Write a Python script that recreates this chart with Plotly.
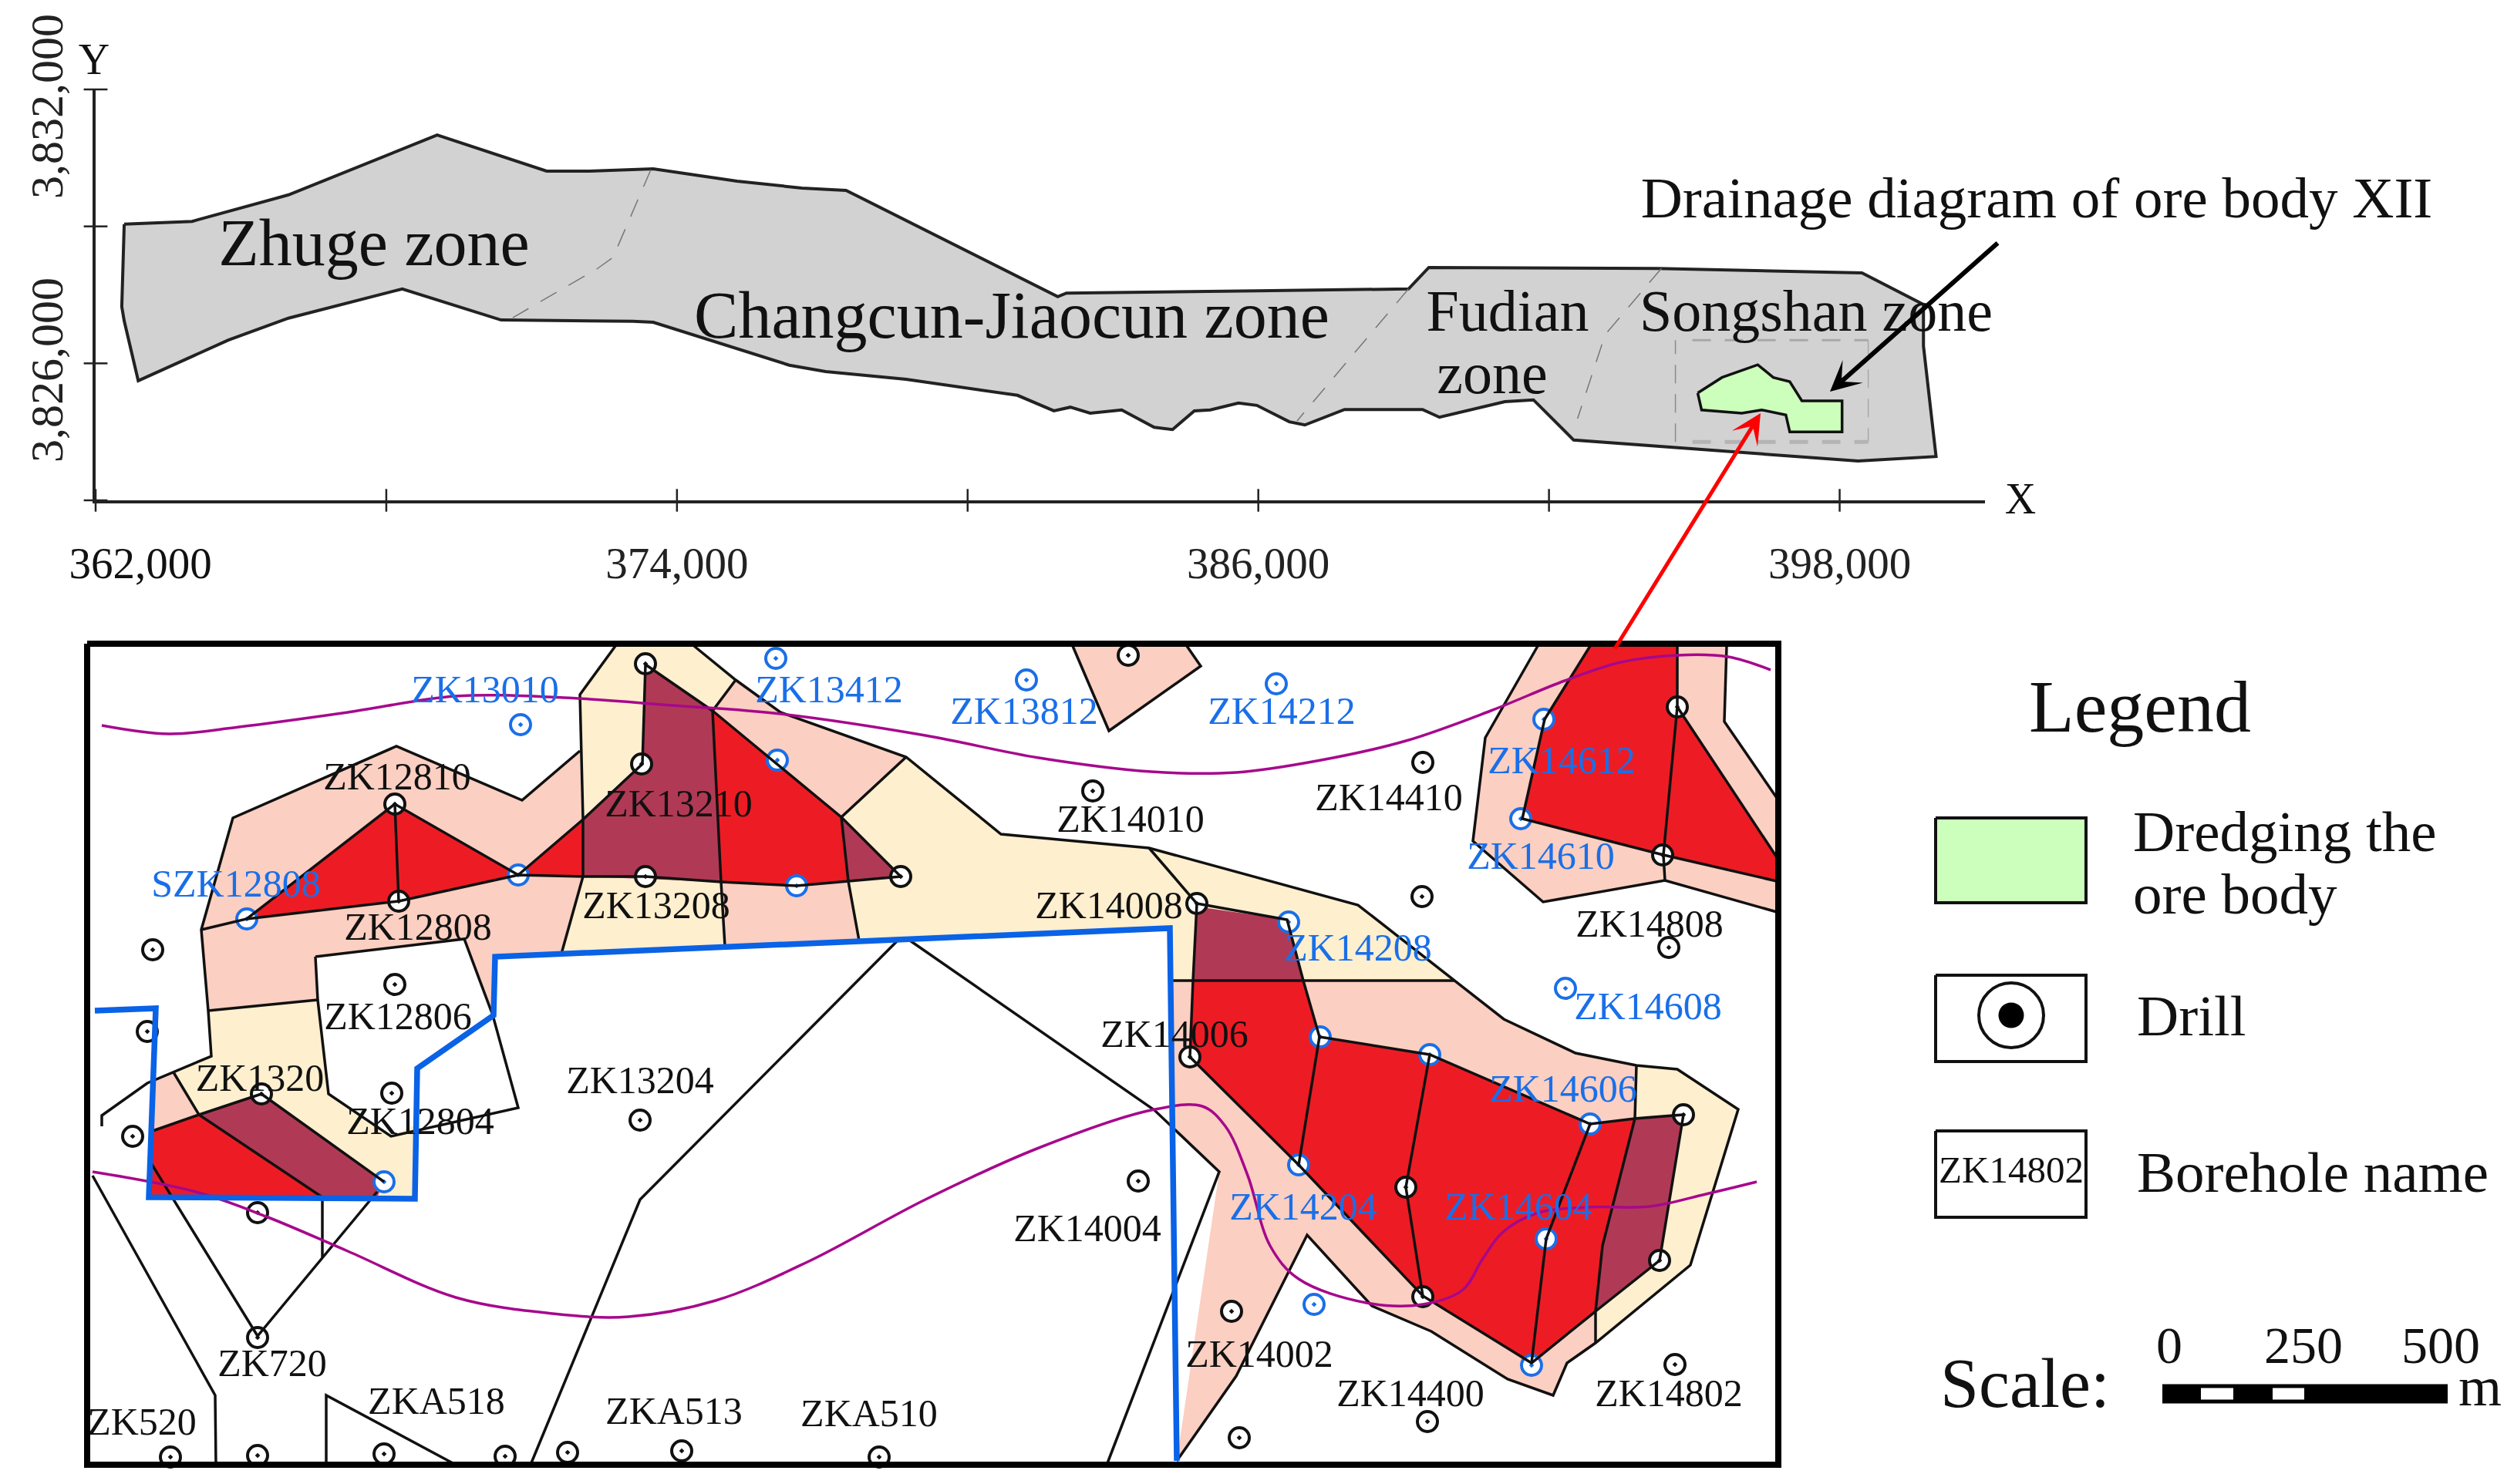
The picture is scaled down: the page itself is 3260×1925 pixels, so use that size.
import plotly.graph_objects as go

W, H = 3260, 1925
TEXT_DY = 4  # serif text sits a little high when middle-anchored

# top map, real coordinates
zone_outline = [
    (362590, 3829050), (363990, 3829110), (365980, 3829690), (369050, 3831000), (371310, 3830210),
    (372190, 3830210), (373510, 3830260), (375240, 3829990), (376580, 3829840), (377490, 3829790),
    (381860, 3827460), (382040, 3827540), (385970, 3827590), (389100, 3827630), (389520, 3828100),
    (394240, 3828080), (398460, 3827980), (399730, 3827290), (399730, 3826380), (399990, 3823960),
    (398380, 3823860), (392510, 3824320), (391680, 3825200), (391090, 3825160), (389740, 3824820),
    (389390, 3824990), (387780, 3824990), (386960, 3824650), (386640, 3824720), (385970, 3825080),
    (385590, 3825130), (385010, 3824980), (384680, 3824960), (384230, 3824550), (383850, 3824600),
    (383180, 3824980), (382530, 3824910), (382120, 3825040), (381780, 3824960), (381030, 3825300),
    (378730, 3825650), (377070, 3825820), (376320, 3825960), (374920, 3826430), (373510, 3826900),
    (373090, 3826920), (370370, 3826950), (368330, 3827630), (365980, 3826990), (364740, 3826510),
    (362880, 3825620), (362590, 3826930), (362540, 3827240), (362590, 3829050),
]
zone_split_1 = [(373460, 3830240), (372680, 3828320), (372350, 3828070), (370610, 3827000)]
zone_split_2 = [(389100, 3827630), (386800, 3824740)]
zone_split_3 = [(394320, 3828080), (393580, 3827150), (393160, 3826630), (392590, 3824790)]
detail_left = [(394610, 3824280), (394610, 3826510)]
detail_right = [(398590, 3826510), (398590, 3824280)]
detail_top = [(394960, 3826510), (398590, 3826510)]
detail_bottom = [(394960, 3824280), (398590, 3824280)]
ore_body = [
    (395070, 3825350), (395570, 3825690), (396310, 3825970), (396630, 3825690), (396970, 3825600),
    (397220, 3825180), (398050, 3825180), (398050, 3824500), (396970, 3824500), (396890, 3824870),
    (396390, 3824980), (395980, 3824910), (395150, 3824980), (395070, 3825350),
]
x_ticks = [362000, 368000, 374000, 380000, 386000, 392000, 398000]
x_tick_text = ['', '', '374,000', '', '386,000', '', '398,000']
y_ticks = [3823000, 3826000, 3829000, 3832000]

# lower map, sheet units
peach_areas = [
    [(261, 1206), (302, 1061), (514, 968), (677, 1038), (752, 974), (756, 1137), (728, 1237), (642, 1241),
     (639, 1317), (602, 1218), (409, 1241), (412, 1297), (270, 1311)],
    [(954, 882), (1012, 924), (1175, 982), (1091, 1060), (924, 922)],
    [(935, 1144), (940, 1227), (1114, 1220), (1100, 1143)],
    [(1690, 1272), (1886, 1272), (1950, 1322), (2043, 1366), (2122, 1382), (2122, 1451), (2062, 1458),
     (1854, 1368), (1711, 1345)],
    [(1517, 1272), (1547, 1272), (1543, 1371), (1684, 1511), (1845, 1681), (1986, 1768), (2069, 1701),
     (2069, 1742), (2032, 1768), (2014, 1810), (1955, 1789), (1856, 1727), (1779, 1694), (1695, 1602),
     (1603, 1785), (1526, 1895), (1581, 1520), (1519, 1458)],
    [(1391, 838), (1539, 838), (1557, 864), (1438, 948)],
    [(1994, 838), (1926, 957), (1910, 1091), (2001, 1170), (2159, 1142), (2304, 1183), (2304, 1143),
     (2157, 1109), (1974, 1062), (2003, 933), (2062, 838)],
    [(2175, 838), (2239, 838), (2236, 936), (2304, 1035), (2304, 1112), (2175, 917)],
    [(195, 1401), (225, 1391), (258, 1446), (195, 1468)],
]
cream_areas = [
    [(752, 901), (798, 838), (900, 838), (954, 882), (924, 922), (837, 862), (833, 991), (756, 1063)],
    [(756, 1137), (728, 1237), (940, 1227), (935, 1144)],
    [(1091, 1060), (1175, 982), (1298, 1082), (1490, 1100), (1761, 1174), (1886, 1272), (1517, 1272),
     (1517, 1204), (1114, 1220), (1100, 1143), (1168, 1137)],
    [(2122, 1382), (2175, 1387), (2254, 1439), (2192, 1641), (2069, 1742), (2069, 1701), (2152, 1635),
     (2183, 1446), (2120, 1451)],
    [(270, 1311), (412, 1297), (426, 1419), (507, 1474), (541, 1458), (538, 1555), (489, 1553), (498, 1533),
     (339, 1419), (258, 1446), (225, 1391), (274, 1370)],
]
red_areas = [
    [(320, 1192), (512, 1043), (672, 1135), (517, 1169)],
    [(672, 1135), (756, 1063), (756, 1137)],
    [(924, 922), (1091, 1060), (1100, 1143), (1033, 1149), (935, 1144)],
    [(1547, 1272), (1690, 1272), (1711, 1345), (1854, 1368), (2062, 1458), (2120, 1451), (2078, 1616),
     (2069, 1701), (1986, 1768), (1845, 1681), (1684, 1511), (1543, 1371)],
    [(2062, 838), (2175, 838), (2175, 917), (2304, 1112), (2304, 1143), (2157, 1109), (1974, 1062), (2003, 933)],
    [(195, 1468), (258, 1446), (418, 1553), (193, 1553)],
]
maroon_areas = [
    [(837, 862), (924, 922), (935, 1144), (756, 1137), (756, 1063), (833, 991)],
    [(1091, 1060), (1168, 1137), (1100, 1143)],
    [(1552, 1176), (1669, 1193), (1690, 1272), (1547, 1272)],
    [(2120, 1451), (2183, 1446), (2152, 1635), (2069, 1701), (2078, 1616)],
    [(258, 1446), (339, 1419), (498, 1533), (489, 1553), (418, 1553)],
]
black_lines = [
    [(132, 1461), (132, 1447), (191, 1405), (225, 1391), (274, 1370), (270, 1311), (261, 1206), (302, 1061),
     (514, 968), (677, 1038), (752, 974)],
    [(728, 1237), (756, 1137), (756, 1063), (752, 901), (798, 838)],
    [(900, 838), (954, 882), (1012, 924), (1175, 982), (1298, 1082), (1490, 1100), (1761, 1174), (1886, 1272),
     (1950, 1322), (2043, 1366), (2122, 1382), (2175, 1387), (2254, 1439), (2192, 1641), (2069, 1742),
     (2032, 1768), (2014, 1810), (1955, 1789), (1856, 1727), (1779, 1694), (1695, 1602), (1603, 1785), (1526, 1895)],
    [(954, 882), (924, 922), (837, 862), (833, 991), (756, 1063), (672, 1135)],
    [(261, 1206), (320, 1192), (512, 1043), (672, 1135)],
    [(512, 1043), (517, 1169)],
    [(320, 1192), (517, 1169), (672, 1135), (756, 1137), (837, 1137), (935, 1144), (1033, 1149), (1100, 1143),
     (1168, 1137), (1091, 1060), (924, 922)],
    [(924, 922), (935, 1144), (940, 1227)],
    [(1175, 982), (1091, 1060), (1100, 1143), (1114, 1220)],
    [(409, 1241), (602, 1218), (639, 1317), (672, 1437), (507, 1474), (426, 1419), (412, 1297), (409, 1241)],
    [(270, 1311), (412, 1297)],
    [(225, 1391), (258, 1446), (418, 1553), (418, 1632)],
    [(195, 1468), (258, 1446), (339, 1419), (498, 1533)],
    [(193, 1504), (334, 1733), (489, 1546)],
    [(120, 1525), (279, 1810), (280, 1900)],
    [(423, 1900), (423, 1810), (591, 1900)],
    [(688, 1900), (830, 1556), (1166, 1218)],
    [(1177, 1218), (1497, 1440), (1581, 1520), (1436, 1898)],
    [(1515, 1272), (1886, 1272)],
    [(1490, 1100), (1552, 1172), (1547, 1272), (1543, 1371), (1684, 1511), (1845, 1681), (1986, 1768), (2069, 1701),
     (2078, 1616), (2120, 1451), (2183, 1446), (2152, 1635), (2069, 1701), (2069, 1742)],
    [(1552, 1172), (1669, 1193), (1690, 1272), (1711, 1345), (1854, 1368), (2062, 1458), (2120, 1451)],
    [(2122, 1382), (2120, 1451)],
    [(1711, 1345), (1684, 1511)],
    [(1854, 1368), (1823, 1540), (1845, 1681)],
    [(2062, 1458), (2005, 1607), (1986, 1768)],
    [(1391, 838), (1438, 948), (1557, 864), (1539, 838)],
    [(1994, 838), (1926, 957), (1910, 1091), (2001, 1170), (2159, 1142), (2304, 1183)],
    [(2062, 838), (2003, 933), (1974, 1062), (2157, 1109), (2304, 1143)],
    [(2175, 838), (2175, 917), (2157, 1109), (2159, 1142)],
    [(2175, 917), (2304, 1112)],
    [(2239, 838), (2236, 936), (2304, 1035)],
]
blue_boundary = [
    (123, 1311), (202, 1308), (193, 1553), (538, 1555), (541, 1386), (640, 1317), (642, 1241), (1200, 1218),
    (1517, 1204), (1526, 1895),
]
curve_upper = [
    (132, 941), (219, 952), (310, 943), (451, 924), (591, 903), (731, 905), (872, 915), (1012, 926), (1200, 954),
    (1347, 983), (1493, 1001), (1603, 1002), (1713, 986), (1823, 961), (1933, 922), (2029, 883), (2102, 859),
    (2175, 850), (2241, 852), (2296, 869),
]
curve_lower = [
    (120, 1520), (254, 1546), (345, 1578), (451, 1623), (591, 1683), (717, 1704), (815, 1708), (928, 1687),
    (1047, 1637), (1200, 1556), (1347, 1489), (1493, 1440), (1559, 1435), (1589, 1461), (1618, 1525), (1647, 1616),
    (1684, 1659), (1772, 1690), (1845, 1692), (1897, 1673), (1922, 1634), (1948, 1599), (1992, 1574), (2058, 1566),
    (2139, 1565), (2212, 1549), (2278, 1533),
]
drills_black = [
    (198, 1232), (191, 1338), (172, 1474), (334, 1573), (334, 1735), (512, 1277), (508, 1418), (830, 1453),
    (221, 1890), (334, 1888), (498, 1886), (655, 1889), (736, 1884), (884, 1882), (1140, 1890), (512, 1043),
    (517, 1169), (837, 1137), (832, 991), (837, 861), (1168, 1137), (339, 1419), (1463, 850), (1417, 1026),
    (1845, 989), (1844, 1163), (2164, 1229), (1552, 1172), (1543, 1371), (2175, 917), (2156, 1109), (2183, 1446),
    (2152, 1635), (1823, 1540), (1845, 1682), (1476, 1532), (1597, 1701), (1607, 1865), (1851, 1844), (2172, 1770),
]
drills_blue = [
    (675, 940), (1006, 854), (1008, 986), (672, 1135), (320, 1192), (1033, 1149), (498, 1533), (1331, 882),
    (1655, 887), (2002, 933), (1972, 1062), (1671, 1196), (2030, 1282), (1712, 1345), (1854, 1368), (2062, 1458),
    (1684, 1511), (2005, 1607), (1704, 1692), (1986, 1771),
]
names_black = [
    ('ZK12810', 515, 1007), ('ZK13210', 880, 1042), ('ZK12808', 542, 1202), ('ZK13208', 851, 1174),
    ('ZK12806', 516, 1318), ('ZK1320', 337, 1398), ('ZK12804', 545, 1454), ('ZK13204', 830, 1401),
    ('ZK720', 353, 1768), ('ZKA518', 566, 1817), ('ZK520', 184, 1844), ('ZKA513', 874, 1830),
    ('ZKA510', 1127, 1833), ('ZK14410', 1801, 1034), ('ZK14010', 1466, 1062), ('ZK14008', 1438, 1174),
    ('ZK14808', 2139, 1198), ('ZK14006', 1523, 1341), ('ZK14004', 1410, 1593), ('ZK14002', 1633, 1756),
    ('ZK14400', 1829, 1807), ('ZK14802', 2164, 1807),
]
names_blue = [
    ('ZK13010', 629, 894), ('ZK13412', 1075, 894), ('SZK12808', 306, 1146), ('ZK13812', 1328, 922),
    ('ZK14212', 1662, 922), ('ZK14612', 2025, 986), ('ZK14610', 1998, 1110), ('ZK14208', 1761, 1229),
    ('ZK14608', 2137, 1305), ('ZK14606', 2027, 1412), ('ZK14204', 1690, 1565), ('ZK14604', 1969, 1565),
]

BLACK = '#111111'
SERIF = 'Liberation Serif'

fig = go.Figure()


def xs(points):
    return [p[0] for p in points]


def ys(points):
    return [p[1] for p in points]


def sheet_poly(points, fill=None, line=None, width=3.5, dash=None, shape='linear'):
    # everything below the top map sits on the full-sheet axes x2/y2
    fig.add_trace(go.Scatter(
        x=xs(points), y=ys(points), xaxis='x2', yaxis='y2', mode='lines',
        fill='toself' if fill else None, fillcolor=fill,
        line=dict(color=line if line else 'rgba(0,0,0,0)', width=width if line else 0, dash=dash, shape=shape),
    ))


def top_poly(points, fill=None, line='#222222', width=3.5, dash=None):
    fig.add_trace(go.Scatter(
        x=xs(points), y=ys(points), mode='lines',
        fill='toself' if fill else None, fillcolor=fill,
        line=dict(color=line, width=width, dash=dash),
    ))


def sheet_text(labels, size, color=BLACK, pos='middle center'):
    fig.add_trace(go.Scatter(
        x=[p[1] for p in labels], y=[p[2] + TEXT_DY for p in labels], text=[p[0] for p in labels],
        xaxis='x2', yaxis='y2', mode='text', textposition=pos,
        textfont=dict(family=SERIF, size=size, color=color),
    ))


# top map
top_poly(zone_outline, fill='#D2D2D2', width=4)
for split in [zone_split_1, zone_split_2, zone_split_3]:
    top_poly(split, line='#777777', width=1.5, dash='24px,18px')
top_poly(detail_left, line='#8A8A8A', width=1.5, dash='24px,14px')
top_poly(detail_right, line='#A8A8A8', width=1.5, dash='24px,14px')
top_poly(detail_top, line='#A8A8A8', width=3, dash='24px,18px')
top_poly(detail_bottom, line='#B4B4B4', width=5, dash='24px,18px')
top_poly(ore_body, fill='#CCFFBB', line='#111111', width=3.5)
fig.add_trace(go.Scatter(
    x=x_ticks, y=[y_ticks[0]] * len(x_ticks), mode='markers', cliponaxis=False,
    marker=dict(symbol='line-ns', size=21, line=dict(color='#222222', width=2.5)),
))
fig.add_trace(go.Scatter(
    x=[x_ticks[0]] * len(y_ticks), y=y_ticks, mode='markers', cliponaxis=False,
    marker=dict(symbol='line-ew', size=22, line=dict(color='#222222', width=2.5)),
))

# lower map
for area in peach_areas:
    sheet_poly(area, fill='#FBCFC1')
for area in cream_areas:
    sheet_poly(area, fill='#FEEFCF')
for area in red_areas:
    sheet_poly(area, fill='#ED1C24')
for area in maroon_areas:
    sheet_poly(area, fill='#B03A55')

for pts, col in [(drills_black, '#111111'), (drills_blue, '#1A6FE8')]:
    fig.add_trace(go.Scatter(
        x=xs(pts), y=ys(pts), xaxis='x2', yaxis='y2', mode='markers',
        marker=dict(symbol='circle-dot', size=26, color='white', line=dict(color=col, width=4)),
    ))
for seg in black_lines:
    sheet_poly(seg, line='#111111', width=3.5)
sheet_poly(curve_upper, line='#A6088C', width=3.5, shape='spline')
sheet_poly(curve_lower, line='#A6088C', width=3.5, shape='spline')
sheet_poly(blue_boundary, line='#0A62E6', width=7.5)
sheet_text(names_black, 50)
sheet_text(names_blue, 50, color='#1A6FE8')

map_frame = [(113, 835), (2306, 835), (2306, 1900), (113, 1900), (113, 835)]
sheet_poly(map_frame, line='#000000', width=8)

# legend boxes
legend_box_1 = [(2510, 1061), (2705, 1061), (2705, 1171), (2510, 1171), (2510, 1061)]
legend_box_2 = [(2510, 1265), (2705, 1265), (2705, 1377), (2510, 1377), (2510, 1265)]
legend_box_3 = [(2510, 1467), (2705, 1467), (2705, 1579), (2510, 1579), (2510, 1467)]
sheet_poly(legend_box_1, fill='#CCFFBB', line='#111111', width=4)
sheet_poly(legend_box_2, line='#111111', width=4)
sheet_poly(legend_box_3, line='#111111', width=4)
fig.add_trace(go.Scatter(
    x=[2608], y=[1317], xaxis='x2', yaxis='y2', mode='markers',
    marker=dict(symbol='circle-open', size=84, color='#111111', line=dict(width=4)),
))
fig.add_trace(go.Scatter(
    x=[2608], y=[1317], xaxis='x2', yaxis='y2', mode='markers',
    marker=dict(symbol='circle', size=33, color='#000000'),
))
sheet_text([('Legend', 2775, 921)], 96)
sheet_text([('Dredging the', 2766, 1081), ('ore body', 2766, 1162)], 75, pos='middle right')
sheet_text([('Drill', 2771, 1320), ('Borehole name', 2771, 1523)], 75, pos='middle right')
sheet_text([('ZK14802', 2608, 1518)], 49)

# scale bar
bar_black = [(2804, 1808), (3174, 1808)]
bar_gap_1 = [(2854, 1808), (2896, 1808)]
bar_gap_2 = [(2947, 1808), (2988, 1808)]
sheet_poly(bar_black, line='#000000', width=25)
sheet_poly(bar_gap_1, line='#FFFFFF', width=15)
sheet_poly(bar_gap_2, line='#FFFFFF', width=15)
sheet_text([('0', 2813, 1747), ('250', 2987, 1747), ('500', 3165, 1747)], 68)
sheet_text([('Scale:', 2516, 1798)], 90, pos='middle right')
sheet_text([('m', 3216, 1801)], 72)

# text on the top map
sheet_text([('Zhuge zone', 485, 318), ('Changcun-Jiaocun zone', 1312, 412)], 86)
sheet_text([('Fudian', 1955, 406), ('zone', 1935, 487), ('Songshan zone', 2355, 406)], 76)
sheet_text([('Drainage diagram of ore body XII', 2641, 259)], 75)
sheet_text([('Y', 122, 78), ('X', 2620, 648)], 56)
sheet_text([('362,000', 182, 732)], 57)

for txt, yy in [('3,832,000', 138), ('3,826,000', 480)]:
    fig.add_annotation(
        x=61, y=yy, xref='x2', yref='y2', text=txt, textangle=-90, showarrow=False,
        font=dict(family=SERIF, size=60, color='#222222'),
    )

# arrows
fig.add_annotation(
    x=2373, y=508, ax=2592, ay=314, xref='x2', yref='y2', axref='x2', ayref='y2', text='',
    showarrow=True, arrowhead=3, arrowsize=1.1, arrowwidth=6, arrowcolor='#000000',
)
fig.add_annotation(
    x=2283, y=536, ax=2093, ay=843, xref='x2', yref='y2', axref='x2', ayref='y2', text='',
    showarrow=True, arrowhead=3, arrowsize=1.3, arrowwidth=5, arrowcolor='#FF0000',
)

fig.update_layout(
    width=W, height=H, margin=dict(l=0, r=0, t=0, b=0), showlegend=False, hovermode=False,
    paper_bgcolor='white', plot_bgcolor='rgba(0,0,0,0)',
    xaxis=dict(
        domain=[124 / W, 2574 / W], range=[362000, 401000], tickvals=x_ticks, ticktext=x_tick_text,
        ticks='', showgrid=False, zeroline=False, showline=True, linecolor='#222222', linewidth=4,
        ticklabelstandoff=29, tickfont=dict(family=SERIF, size=57, color='#222222'), anchor='y',
    ),
    yaxis=dict(
        domain=[1 - 649 / H, 1 - 116 / H], range=[3823000, 3832000], tickvals=y_ticks, showticklabels=False,
        ticks='', showgrid=False, zeroline=False, showline=True, linecolor='#222222', linewidth=4, anchor='x',
    ),
    xaxis2=dict(domain=[0, 1], range=[0, W], visible=False, anchor='y2'),
    yaxis2=dict(domain=[0, 1], range=[H, 0], visible=False, anchor='x2'),
)

fig.write_html("out.html", config=dict(displayModeBar=False), post_script="document.body.style.margin='0';")
